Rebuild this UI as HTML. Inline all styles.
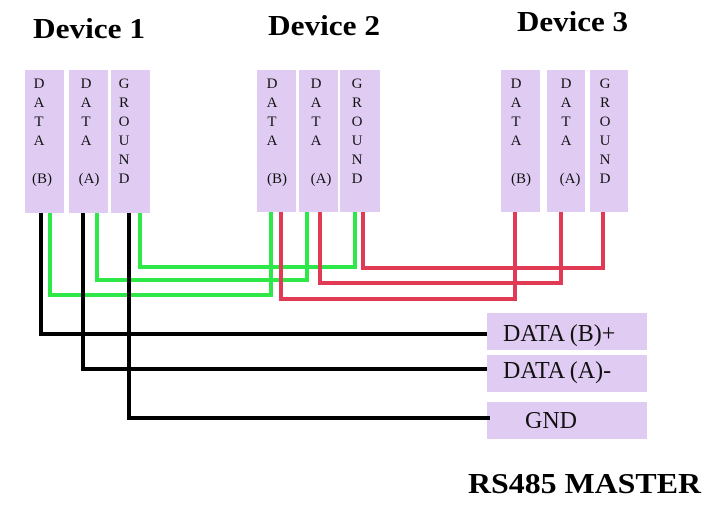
<!DOCTYPE html>
<html><head><style>body{margin:0;background:#fff}svg{display:block}</style></head><body>
<svg width="724" height="509" xmlns="http://www.w3.org/2000/svg" font-family="Liberation Serif, serif">
<g fill="#e0ccf2">
<rect x="25" y="70" width="39" height="143"/><rect x="69" y="70" width="39" height="143"/><rect x="111" y="70" width="39" height="143"/>
<rect x="257" y="70" width="39" height="142"/><rect x="299" y="70" width="39" height="142"/><rect x="340" y="70" width="40" height="142"/>
<rect x="501" y="70" width="39" height="142"/><rect x="547" y="70" width="38" height="142"/><rect x="590" y="70" width="38" height="142"/>
<rect x="487" y="313" width="160" height="37"/><rect x="487" y="355" width="160" height="37"/><rect x="487" y="402" width="160" height="37"/>
</g>
<g font-weight="bold" font-size="29" fill="#000">
<text x="33" y="38" textLength="112" lengthAdjust="spacingAndGlyphs">Device 1</text>
<text x="268" y="35" textLength="112" lengthAdjust="spacingAndGlyphs">Device 2</text>
<text x="517" y="31" textLength="111" lengthAdjust="spacingAndGlyphs">Device 3</text>
<text x="468" y="493" textLength="233" lengthAdjust="spacingAndGlyphs">RS485 MASTER</text>
</g>
<g font-size="15" fill="#111" text-anchor="middle">
<g id="d1">
<text x="39" y="88">D</text><text x="39" y="107">A</text><text x="39" y="126">T</text><text x="39" y="145">A</text><text x="42" y="183">(B)</text>
<text x="86" y="88">D</text><text x="86" y="107">A</text><text x="86" y="126">T</text><text x="86" y="145">A</text><text x="89" y="183">(A)</text>
<text x="124" y="88">G</text><text x="124" y="107">R</text><text x="124" y="126">O</text><text x="124" y="145">U</text><text x="124" y="164">N</text><text x="124" y="183">D</text>
</g>
<g transform="translate(233,0)">
<text x="39" y="88">D</text><text x="39" y="107">A</text><text x="39" y="126">T</text><text x="39" y="145">A</text><text x="44" y="183">(B)</text>
<text x="83" y="88">D</text><text x="83" y="107">A</text><text x="83" y="126">T</text><text x="83" y="145">A</text><text x="88" y="183">(A)</text>
<text x="124" y="88">G</text><text x="124" y="107">R</text><text x="124" y="126">O</text><text x="124" y="145">U</text><text x="124" y="164">N</text><text x="124" y="183">D</text>
</g>
<g transform="translate(477,0)">
<text x="39" y="88">D</text><text x="39" y="107">A</text><text x="39" y="126">T</text><text x="39" y="145">A</text><text x="44" y="183">(B)</text>
<text x="89" y="88">D</text><text x="89" y="107">A</text><text x="89" y="126">T</text><text x="89" y="145">A</text><text x="93" y="183">(A)</text>
<text x="128" y="88">G</text><text x="128" y="107">R</text><text x="128" y="126">O</text><text x="128" y="145">U</text><text x="128" y="164">N</text><text x="128" y="183">D</text>
</g>
</g>
<g font-size="24" fill="#111">
<text x="503" y="341">DATA (B)+</text>
<text x="503" y="378">DATA (A)-</text>
<text x="525" y="428">GND</text>
</g>
<g fill="none" stroke-width="4">
<g stroke="#2ee84a">
<polyline points="50,213 50,295 271,295 271,212"/>
<polyline points="97,213 97,280 307,280 307,212"/>
<polyline points="140,213 140,267 355,267 355,212"/>
</g>
<g stroke="#e03a55">
<polyline points="281,212 281,299 515,299 515,212"/>
<polyline points="320,212 320,283 561,283 561,212"/>
<polyline points="363,212 363,268 603,268 603,212"/>
</g>
<g stroke="#000">
<polyline points="41,213 41,334 487,334"/>
<polyline points="83,213 83,369 487,369"/>
<polyline points="129,213 129,418 490,418"/>
</g>
</g>
</svg>
</body></html>
